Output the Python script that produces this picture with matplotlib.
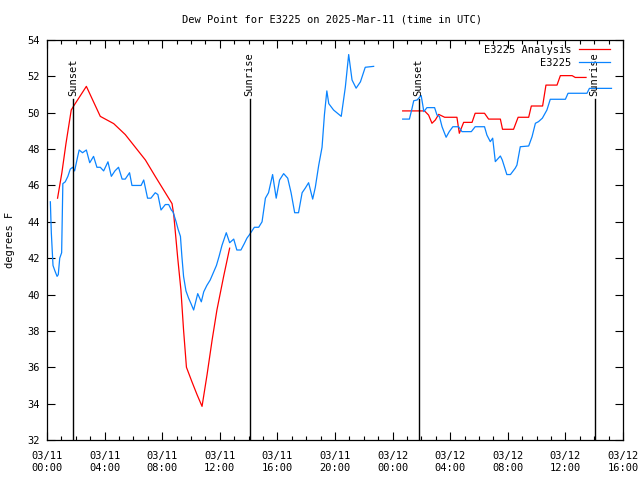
import matplotlib
matplotlib.use("Agg")
import matplotlib.pyplot as plt
import matplotlib.dates as mdates
import numpy as np

plt.rcParams['font.family'] = ['DejaVu Sans Mono']

start = np.datetime64('2025-03-11T00:00')

# hours after 03/11 00:00 UTC, dew point in F
obs_h1 = [0.23, 0.30, 0.42, 0.55, 0.70, 0.78, 0.88, 1.02, 1.10, 1.27, 1.45, 1.62, 1.78, 1.92, 2.13, 2.24,
          2.47, 2.73, 2.96, 3.24, 3.47, 3.70, 3.93, 4.24, 4.47, 4.72, 4.97, 5.21, 5.44, 5.74, 5.90, 6.20,
          6.53, 6.71, 6.99, 7.22, 7.52, 7.70, 7.92, 8.21, 8.45, 8.63, 8.75, 8.96, 9.10, 9.26, 9.37, 9.49,
          9.65, 9.83, 10.00, 10.18, 10.46, 10.72, 10.88, 11.10, 11.34, 11.55, 11.76, 11.95, 12.15, 12.45,
          12.68, 12.96, 13.19, 13.47, 13.70, 13.89, 14.07, 14.40, 14.70, 14.93, 15.16, 15.39, 15.67, 15.92,
          16.15, 16.43, 16.71, 16.95, 17.20, 17.47, 17.71, 17.94, 18.17, 18.45, 18.63, 18.86, 19.10, 19.26,
          19.44, 19.56, 19.90, 20.44, 20.72, 20.95, 21.18, 21.46, 21.76, 22.10, 22.68]
obs_v1 = [45.1, 43.4, 41.6, 41.3, 41.0, 41.1, 42.0, 42.3, 46.1, 46.2, 46.5, 46.9, 47.0, 46.8, 47.6, 47.95,
          47.8, 47.95, 47.25, 47.6, 47.0, 47.0, 46.8, 47.3, 46.5, 46.8, 47.0, 46.35, 46.35, 46.7, 46.0, 46.0,
          46.0, 46.3, 45.3, 45.3, 45.6, 45.5, 44.65, 44.95, 44.95, 44.65, 44.55, 44.0, 43.6, 43.2, 42.1, 41.0,
          40.2, 39.8, 39.5, 39.15, 40.05, 39.6, 40.15, 40.5, 40.8, 41.2, 41.6, 42.1, 42.7, 43.4,
          42.85, 43.05, 42.45, 42.45, 42.8, 43.1, 43.3, 43.7, 43.7, 44.0, 45.3, 45.6, 46.6, 45.3,
          46.3, 46.65, 46.4, 45.6, 44.5, 44.5, 45.6, 45.85, 46.15, 45.25, 45.9, 47.1, 48.1, 49.9,
          51.2, 50.5, 50.15, 49.8, 51.4, 53.2, 51.8, 51.35, 51.7, 52.5, 52.55]

obs_h2 = [24.70, 25.16, 25.35, 25.46, 25.70, 25.98, 26.10, 26.16, 26.39, 26.92, 27.08, 27.25, 27.43, 27.71,
          27.94, 28.19, 28.59, 28.82, 29.46, 29.74, 30.39, 30.55, 30.78, 30.95, 31.13, 31.48, 31.62, 31.94,
          32.18, 32.52, 32.64, 32.87, 33.45, 33.68, 33.91, 34.14, 34.40, 34.72, 34.95, 36.00, 36.18, 37.50,
          37.66, 39.20]
obs_v2 = [49.65, 49.65, 50.24, 50.66, 50.7, 50.95, 50.4, 50.06, 50.28, 50.28, 49.87, 49.8, 49.23, 48.65,
          48.96, 49.23, 49.23, 48.96, 48.96, 49.23, 49.23, 48.77, 48.41, 48.6, 47.31, 47.62, 47.4, 46.6,
          46.6, 46.95, 47.12, 48.13, 48.17, 48.68, 49.42, 49.51, 49.7, 50.15, 50.74, 50.74, 51.07, 51.07,
          51.34, 51.34]

ana_h1 = [0.74, 1.04, 1.32, 1.69, 1.92, 2.73, 3.70, 4.63, 5.44, 6.13, 6.83, 7.52, 8.10, 8.68, 8.80, 8.91,
          9.07, 9.30, 9.49, 9.68, 10.07, 10.42, 10.76, 11.11, 11.46, 11.80, 12.27, 12.68]
ana_v1 = [45.3, 46.7, 48.3, 50.15, 50.45, 51.45, 49.8, 49.4, 48.8, 48.1, 47.4, 46.5, 45.75, 45.0, 44.4, 43.4,
          42.1, 40.25, 38.05, 36.0, 35.2, 34.5, 33.85, 35.6, 37.5, 39.15, 41.0, 42.55]

ana_h2 = [24.70, 26.22, 26.50, 26.74, 26.97, 27.20, 27.61, 28.47, 28.63, 28.93, 29.51, 29.74, 30.39, 30.67,
          31.48, 31.64, 32.40, 32.71, 33.45, 33.63, 34.42, 34.65, 35.42, 35.65, 36.46, 36.69, 37.43]
ana_v2 = [50.1, 50.1, 49.87, 49.42, 49.6, 49.91, 49.75, 49.75, 48.87, 49.47, 49.47, 49.97, 49.97, 49.65,
          49.65, 49.09, 49.09, 49.75, 49.75, 50.37, 50.37, 51.52, 51.52, 52.04, 52.04, 51.94, 51.94]

sun_h = [1.83, 14.07, 25.80, 38.03]
sun_lbl = ['Sunset', 'Sunrise', 'Sunset', 'Sunrise']


def to_time(hours):
    mins = np.round(np.array(hours) * 60).astype(int)
    return (start + mins.astype('timedelta64[m]')).astype('datetime64[s]').astype(object)


red = '#ff0000'
blue = '#0a84ff'

fig = plt.figure(figsize=(6.4, 4.8), dpi=100)
ax = fig.add_axes([47/640, 40/480, 576/640, 400/480])

ax.plot(to_time(ana_h1), ana_v1, color=red, lw=0.9, label='E3225 Analysis')
ax.plot(to_time(ana_h2), ana_v2, color=red, lw=0.9)
ax.plot(to_time(obs_h1), obs_v1, color=blue, lw=0.9, label='E3225')
ax.plot(to_time(obs_h2), obs_v2, color=blue, lw=0.9)

for h, lbl in zip(sun_h, sun_lbl):
    t = to_time([h])[0]
    ax.axvline(t, ymin=0, ymax=0.852, color='black', lw=1.0)
    ax.text(t, 50.9, lbl, rotation=90, ha='center', va='bottom', fontsize=7.5)

ax.set_xlim(to_time([0])[0], to_time([40])[0])
ax.set_ylim(32, 54)
ax.set_yticks(np.arange(32, 55, 2))
ax.xaxis.set_major_locator(mdates.HourLocator(byhour=[0, 4, 8, 12, 16, 20]))
ax.xaxis.set_minor_locator(mdates.HourLocator())
ax.xaxis.set_major_formatter(mdates.DateFormatter('%m/%d\n%H:%M'))

ax.tick_params(which='both', direction='in', top=True, right=True, labelsize=7.5)
ax.tick_params(axis='x', pad=8)
ax.tick_params(axis='y', pad=5)
ax.tick_params(which='major', length=6, width=0.8)
ax.tick_params(which='minor', length=3, width=0.8)
for sp in ax.spines.values():
    sp.set_linewidth(0.9)

ax.set_ylabel('degrees F', fontsize=7.5, labelpad=9)
fig.text(332/640, 1 - 19/480, 'Dew Point for E3225 on 2025-Mar-11 (time in UTC)', ha='center', va='center', fontsize=7.5)

ax.legend(loc='upper right', bbox_to_anchor=(1 - 13/576, 1 - 5/400), frameon=False, markerfirst=False,
          fontsize=7.5, handlelength=3.0, handletextpad=0.7, labelspacing=0.25, borderpad=0, borderaxespad=0)

fig.savefig('out.png', dpi=100)
